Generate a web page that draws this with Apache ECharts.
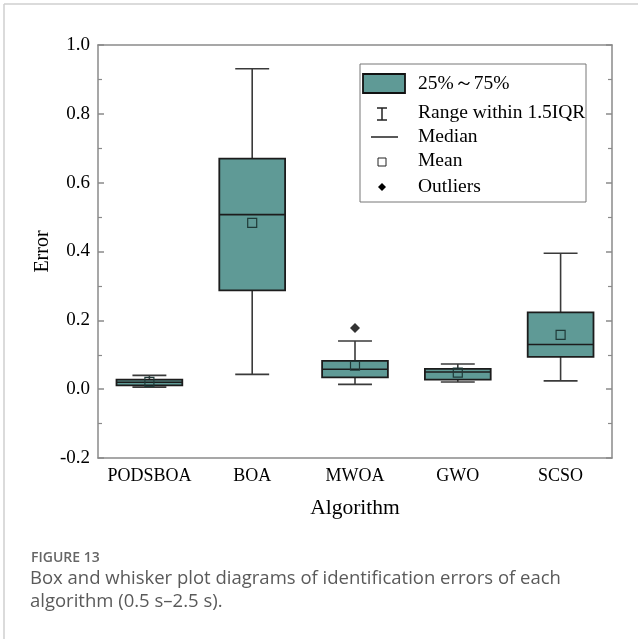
<!DOCTYPE html>
<html>
<head>
<meta charset="utf-8">
<script src="https://cdn.jsdelivr.net/npm/echarts@6/dist/echarts.min.js"></script>
<style>
html,body{margin:0;padding:0;background:#fff;}
#chart{width:638px;height:639px;}
</style>
</head>
<body>
<div id="chart"></div>
<script>
// ---- data ----
const categories = ['PODSBOA', 'BOA', 'MWOA', 'GWO', 'SCSO'];
const whiskerLow  = [0.006, 0.043, 0.014, 0.021, 0.024];
const q1          = [0.011, 0.287, 0.034, 0.028, 0.094];
const median      = [0.020, 0.507, 0.058, 0.050, 0.130];
const q3          = [0.028, 0.670, 0.082, 0.059, 0.223];
const whiskerHigh = [0.040, 0.931, 0.140, 0.073, 0.395];
const means       = [0.021, 0.483, 0.068, 0.048, 0.158];
const outlierCats = ['MWOA'];
const outlierVals = [0.178];
const yTicks = [-0.2, 0.0, 0.2, 0.4, 0.6, 0.8, 1.0];
const legendLabels = ['25%～75%', 'Range within 1.5IQR', 'Median', 'Mean', 'Outliers'];

// ---- style ----
const FILL = '#5f9a96';
const EDGE = '#1c1c1c';
const WHISK = '#3a3a3a';
const AXIS = '#8a8a8a';
const SERIF = '"Liberation Serif","Times New Roman",serif';

const boxData = categories.map((c, i) => [i, whiskerLow[i], q1[i], median[i], q3[i], whiskerHigh[i], means[i]]);
const outlierData = outlierCats.map((c, i) => [categories.indexOf(c), outlierVals[i]]);

const chart = echarts.init(document.getElementById('chart'), null, {renderer: 'canvas'});

function renderBox(params, api) {
  const x = api.value(0);
  const band = api.size([1, 0])[0];
  const bw = band * 0.64, cw = band * 0.33;
  const pLo = api.coord([x, api.value(1)]);
  const pQ1 = api.coord([x, api.value(2)]);
  const pMd = api.coord([x, api.value(3)]);
  const pQ3 = api.coord([x, api.value(4)]);
  const pHi = api.coord([x, api.value(5)]);
  const pMn = api.coord([x, api.value(6)]);
  const cx = pMd[0];
  const wl = {stroke: WHISK, lineWidth: 1.6};
  const ms = 9;
  return {
    type: 'group',
    children: [
      {type: 'line', shape: {x1: cx, y1: pQ3[1], x2: cx, y2: pHi[1]}, style: wl},
      {type: 'line', shape: {x1: cx, y1: pQ1[1], x2: cx, y2: pLo[1]}, style: wl},
      {type: 'line', shape: {x1: cx - cw / 2, y1: pHi[1], x2: cx + cw / 2, y2: pHi[1]}, style: wl},
      {type: 'line', shape: {x1: cx - cw / 2, y1: pLo[1], x2: cx + cw / 2, y2: pLo[1]}, style: wl},
      {type: 'rect', shape: {x: cx - bw / 2, y: pQ3[1], width: bw, height: pQ1[1] - pQ3[1]},
        style: {fill: FILL, stroke: EDGE, lineWidth: 1.8}},
      {type: 'line', shape: {x1: cx - bw / 2, y1: pMd[1], x2: cx + bw / 2, y2: pMd[1]},
        style: {stroke: EDGE, lineWidth: 1.6}},
      {type: 'rect', shape: {x: cx - ms / 2, y: pMn[1] - ms / 2, width: ms, height: ms},
        style: {fill: 'none', stroke: '#1f3a38', lineWidth: 1.2}}
    ]
  };
}

// legend drawn as graphic
const LX = 360, LY = 64;
const rowY = [84, 113, 137, 161, 187];
const legendChildren = [
  {type: 'rect', shape: {x: LX, y: LY, width: 226, height: 138}, style: {fill: '#fff', stroke: '#777', lineWidth: 1}},
  {type: 'rect', shape: {x: 363, y: 74, width: 42, height: 19}, style: {fill: FILL, stroke: '#111', lineWidth: 1.8}},
  {type: 'line', shape: {x1: 382, y1: 108, x2: 382, y2: 120}, style: {stroke: '#222', lineWidth: 1.5}},
  {type: 'line', shape: {x1: 377, y1: 108, x2: 387, y2: 108}, style: {stroke: '#222', lineWidth: 1.5}},
  {type: 'line', shape: {x1: 377, y1: 120, x2: 387, y2: 120}, style: {stroke: '#222', lineWidth: 1.5}},
  {type: 'line', shape: {x1: 371, y1: 137, x2: 398, y2: 137}, style: {stroke: '#222', lineWidth: 1.5}},
  {type: 'rect', shape: {x: 378, y: 158, width: 8, height: 8}, style: {fill: 'none', stroke: '#222', lineWidth: 1}},
  {type: 'polygon', shape: {points: [[382, 183], [386, 187], [382, 191], [378, 187]]}, style: {fill: '#000'}}
];
legendLabels.forEach((t, i) => {
  legendChildren.push({type: 'text', x: 418, y: rowY[i],
    style: {text: t, font: '19.5px ' + SERIF, fill: '#000', verticalAlign: 'middle'}});
});

const option = {
  animation: false,
  backgroundColor: '#fff',
  grid: {left: 98, top: 45, right: 26, bottom: 181, containLabel: false},
  xAxis: [
    {
      type: 'category', data: categories, boundaryGap: true,
      name: 'Algorithm', nameLocation: 'middle', nameGap: 39,
      nameTextStyle: {fontFamily: SERIF, fontSize: 21.5, color: '#000'},
      axisLine: {onZero: false, lineStyle: {color: AXIS, width: 1.5}},
      axisTick: {inside: true, alignWithLabel: true, interval: 0, length: 7, lineStyle: {color: AXIS, width: 1.5}},
      axisLabel: {fontFamily: SERIF, fontSize: 18, color: '#000', margin: 9, interval: 0, hideOverlap: false},
      splitLine: {show: false}
    },
    {
      type: 'category', data: categories, boundaryGap: true, position: 'top',
      axisLine: {onZero: false, lineStyle: {color: AXIS, width: 1.5}},
      axisTick: {inside: true, alignWithLabel: true, interval: 0, length: 7, lineStyle: {color: AXIS, width: 1.5}},
      axisLabel: {show: false, interval: 0}, splitLine: {show: false}
    }
  ],
  yAxis: [
    {
      type: 'value', min: yTicks[0], max: yTicks[yTicks.length - 1], interval: 0.2,
      name: 'Error', nameLocation: 'middle', nameGap: 45, nameRotate: 90, nameMoveOverlap: false,
      nameTextStyle: {fontFamily: SERIF, fontSize: 20, color: '#000'},
      axisLine: {show: true, onZero: false, lineStyle: {color: AXIS, width: 1.5}},
      axisTick: {show: true, inside: true, length: 6, lineStyle: {color: AXIS, width: 1.5}},
      minorTick: {show: true, splitNumber: 2, length: 4, lineStyle: {color: AXIS, width: 1.2}},
      axisLabel: {fontFamily: SERIF, fontSize: 19, color: '#000', margin: 8,
        formatter: v => v.toFixed(1)},
      splitLine: {show: false}
    },
    {
      type: 'value', min: yTicks[0], max: yTicks[yTicks.length - 1], interval: 0.2, position: 'right',
      axisLine: {show: true, onZero: false, lineStyle: {color: AXIS, width: 1.5}},
      axisTick: {show: true, inside: true, length: 6, lineStyle: {color: AXIS, width: 1.5}},
      minorTick: {show: true, splitNumber: 2, length: 4, lineStyle: {color: AXIS, width: 1.2}},
      axisLabel: {show: false}, splitLine: {show: false}
    }
  ],
  series: [
    {
      type: 'custom', name: '25%～75%', renderItem: renderBox,
      encode: {x: 0, y: [1, 2, 3, 4, 5, 6]}, data: boxData, z: 3
    },
    {
      type: 'scatter', name: 'Outliers', data: outlierData,
      symbol: 'diamond', symbolSize: 10, itemStyle: {color: '#000'}, z: 4
    }
  ],
  graphic: [
    {type: 'line', shape: {x1: 4, y1: 4, x2: 638, y2: 4}, style: {stroke: '#cfcfcf', lineWidth: 1.5}, z: 0},
    {type: 'line', shape: {x1: 4, y1: 4, x2: 4, y2: 639}, style: {stroke: '#cfcfcf', lineWidth: 1.5}, z: 0},
    {type: 'group', children: legendChildren, z: 10},
    {type: 'text', x: 31, y: 551, style: {text: 'FIGURE 13', font: '600 14px "Open Sans", sans-serif', fill: '#666'}},
    {type: 'text', x: 30, y: 567, style: {text: 'Box and whisker plot diagrams of identification errors of each\nalgorithm (0.5 s\u20132.5 s).',
      font: '18.5px "Open Sans", sans-serif', fill: '#5a5a5a', lineHeight: 23}}
  ]
};
chart.setOption(option);
</script>
</body>
</html>
